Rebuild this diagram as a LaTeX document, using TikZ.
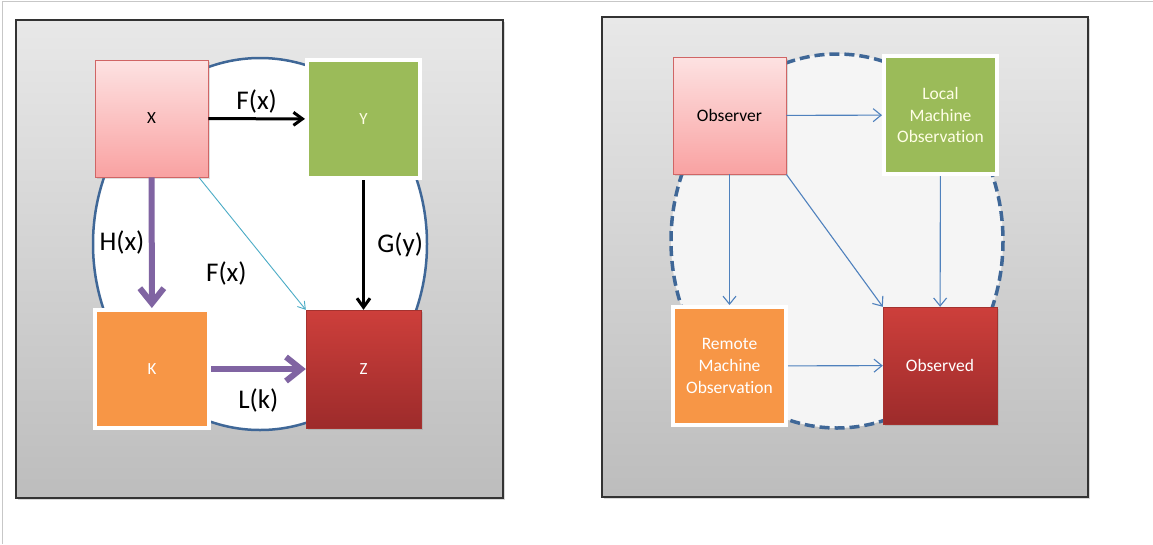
\documentclass[tikz,border=0pt]{standalone}
\usepackage{fontspec}
\setmainfont{Carlito}[Ligatures=NoCommon]
\usetikzlibrary{arrows.meta,shadows,positioning}

\definecolor{pinktop}{HTML}{FDE2E2}
\definecolor{pinkbot}{HTML}{F9A2A2}
\definecolor{pinkline}{HTML}{D06565}
\definecolor{leafgreen}{HTML}{9BBB59}
\definecolor{orangebox}{HTML}{F79646}
\definecolor{redtop}{HTML}{CD3F3B}
\definecolor{redbot}{HTML}{9D2B2B}
\definecolor{ringblue}{HTML}{3F6797}
\definecolor{violet}{HTML}{8064A2}
\definecolor{skyline}{HTML}{4BACC6}
\definecolor{linkblue}{HTML}{4F81BD}

\begin{document}
\begin{tikzpicture}[x=1pt, y=-1pt,
    box/.style={rectangle, inner sep=0pt, align=center, drop shadow={shadow xshift=1.5pt, shadow yshift=-1.5pt, opacity=0.25}},
    pinkbox/.style={box, top color=pinktop, bottom color=pinkbot, draw=pinkline, line width=0.8pt},
    greenbox/.style={box, fill=leafgreen, draw=white, line width=4pt, text=white!90!yellow},
    orangebox/.style={box, fill=orangebox, draw=white, line width=4pt, text=white},
    redbox/.style={box, top color=redtop, bottom color=redbot, draw=redtop!80!black, line width=0.4pt, text=white},
    small/.style={font=\fontsize{17}{20}\selectfont},
    medium/.style={font=\fontsize{17.5}{21.7}\selectfont},
    big/.style={font=\fontsize{27}{32}\selectfont},
    map/.style={-{Straight Barb[length=9pt, width=13pt]}, line width=3pt},
    fatmap/.style={-{Straight Barb[length=15pt, width=24pt]}, line width=6pt, violet},
    link/.style={-{Straight Barb[length=8pt, width=13pt]}, line width=1.1pt, linkblue},
    panel/.style={draw=black!80, line width=1.5pt, top color=black!9, bottom color=black!26, drop shadow={shadow xshift=2pt, shadow yshift=-2pt, opacity=0.3}}]

    \useasboundingbox (0,0) rectangle (1153,544);
    % page edge
    \draw[black!22, line width=1pt] (1153,1) -- (2,1) -- (2,544);

    % Panels
    \path[panel] (16,20) rectangle (503,498);
    \path[panel] (602,17) rectangle (1088,497);

    % Left: ring
    \draw[ringblue, line width=2.5pt, fill=white] (260,244) ellipse [x radius=167, y radius=186];

    % Left: boxes
    \node[pinkbox, small, minimum width=113, minimum height=117] (x) at (151.5,118.5) {X};
    \node[greenbox, small, minimum width=113, minimum height=118] (y) at (363.5,119) {Y};
    \node[orangebox, small, minimum width=114, minimum height=118] (k) at (152,369) {K};
    \node[redbox, small, minimum width=115, minimum height=118] (z) at (363.5,369) {Z};

    % Left: maps
    \draw[map] (x) -- node[big, above=1pt] {F(x)} (y);
    \draw[map] (y) -- node[big, right=9pt] {G(y)} (z);
    \draw[fatmap] (x) -- node[big, left=1pt, text=black] {H(x)} (k);
    \draw[fatmap] (k) -- node[big, below=13pt, text=black] {L(k)} (z);
    \draw[-{Straight Barb[length=7pt, width=9pt]}, line width=0.9pt, skyline] (x) -- node[big, midway, xshift=-26pt, yshift=-30pt, text=black] {F(x)} (z.north west);

    % Right: dashed ring
    \draw[ringblue, line width=3.5pt, dash pattern=on 10pt off 5pt, fill=black!4] (837,241) ellipse [x radius=166, y radius=187];

    % Right: boxes
    \node[pinkbox, medium, minimum width=113, minimum height=117] (observer) at (729.5,115.5) {Observer};
    \node[greenbox, medium, minimum width=113, minimum height=118] (local) at (940.5,115) {Local\\Machine\\Observation};
    \node[orangebox, medium, minimum width=113, minimum height=118] (remote) at (729.5,366) {Remote\\Machine\\Observation};
    \node[redbox, medium, minimum width=114, minimum height=117] (observed) at (940,365.5) {Observed};

    % Right: links
    \draw[link] (observer) -- (local);
    \draw[link] (observer) -- (remote);
    \draw[link] (observer.south east) -- (observed.north west);
    \draw[link] (local) -- (observed);
    \draw[link] (remote) -- (observed);
\end{tikzpicture}
\end{document}
